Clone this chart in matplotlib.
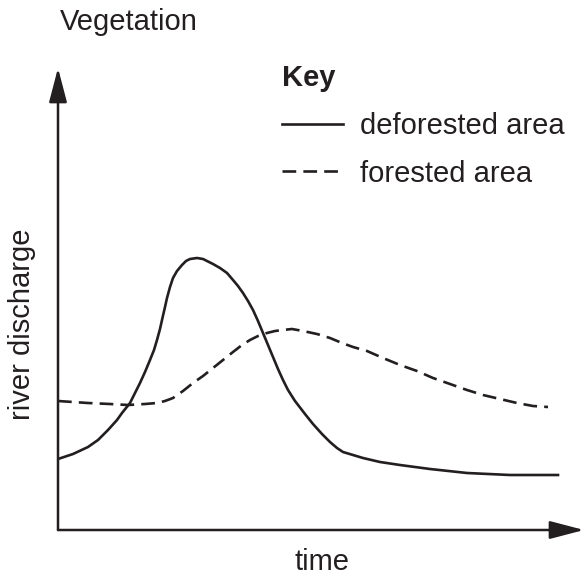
import matplotlib
matplotlib.use("Agg")
import matplotlib.pyplot as plt
from matplotlib.lines import Line2D

plt.rcParams['font.family'] = ['Liberation Sans', 'DejaVu Sans']

# (arbitrary units: time from the y axis, discharge above the x axis)
deforested_time = [0, 15, 30, 40, 50, 59, 64, 72, 77, 82,
                   87, 92, 96, 99, 102, 104, 107, 109, 112, 115,
                   119, 124, 128, 132, 139, 145, 149, 155, 162, 169,
                   175, 180, 185, 190, 195, 200, 205, 210, 215, 220,
                   225, 230, 237, 247, 255, 264, 272, 279, 285, 295,
                   305, 322, 342, 372, 409, 452, 500]
deforested_q = [71, 76, 83, 90, 100, 110, 117, 127, 137, 147,
                158, 170, 180, 190, 201, 210, 223, 232, 243, 252,
                259, 265, 269, 271, 272, 271, 269, 266, 262, 257,
                250, 244, 237, 229, 220, 209, 197, 185, 173, 161,
                150, 140, 129, 116, 106, 96, 88, 82, 78, 75,
                72, 68, 65, 61, 57, 55, 55]

forested_time = [0, 30, 52, 70, 87, 99, 107, 115, 125, 135,
                 145, 155, 165, 175, 184, 192, 200, 209, 217, 225,
                 234, 245, 259, 272, 284, 295, 309, 325, 342, 359,
                 375, 392, 409, 425, 442, 459, 475, 490]
forested_q = [129, 127, 126, 125, 126, 127, 129, 132, 139, 147,
              154, 162, 170, 178, 185, 190, 194, 197, 199, 200,
              201, 199, 196, 192, 187, 183, 179, 172, 165, 159,
              152, 146, 140, 135, 131, 127, 124, 123]

W, H = 584, 580
ink = '#231f20'
fig = plt.figure(figsize=(W / 100, H / 100), dpi=100)
ax = fig.add_axes([58 / W, 50 / H, 526 / W, 462 / H])
ax.set_xlim(0, 526)
ax.set_ylim(0, 462)
for s in ax.spines.values():
    s.set_visible(False)
ax.set_xticks([])
ax.set_yticks([])

lw = 1.9
dash = (5.2, 2.7)
ax.plot(deforested_time, deforested_q, color=ink, lw=lw, solid_joinstyle='round')
ax.plot(forested_time, forested_q, color=ink, lw=lw, linestyle=(0, dash))

# axes with arrow heads
arrow = dict(arrowstyle='-|>,head_length=2.1,head_width=0.55', mutation_scale=10,
             color=ink, lw=1.8, shrinkA=0, shrinkB=0)
ax.annotate('', xy=(1, 0), xytext=(0, 0), xycoords='axes fraction',
            arrowprops=arrow, annotation_clip=False)
ax.annotate('', xy=(0, 1), xytext=(0, 0), xycoords='axes fraction',
            arrowprops=arrow, annotation_clip=False)

fs = 21
fig.text(60 / W, 1 - 22 / H, 'Vegetation', fontsize=fs, ha='left', va='center', color=ink)
fig.text(322 / W, 1 - 562 / H, 'time', fontsize=fs, ha='center', va='center', color=ink)
fig.text(22 / W, 1 - 324 / H, 'river discharge', fontsize=fs, ha='center', va='center',
         rotation=90, color=ink)

handles = [Line2D([], [], color=ink, lw=lw),
           Line2D([], [], color=ink, lw=lw, linestyle=(0, dash))]
leg = ax.legend(handles, ['deforested area', 'forested area'], title='Key',
                title_fontproperties={'weight': 'bold', 'size': fs}, fontsize=fs,
                alignment='left', frameon=False, loc='upper left',
                bbox_to_anchor=(282 / W, 1 - 64 / H), bbox_transform=fig.transFigure,
                borderpad=0, borderaxespad=0, handlelength=2.1, handletextpad=0.58,
                labelspacing=0.68)
for t in leg.get_texts():
    t.set_color(ink)
leg.get_title().set_color(ink)

fig.savefig('out.png', dpi=100)
